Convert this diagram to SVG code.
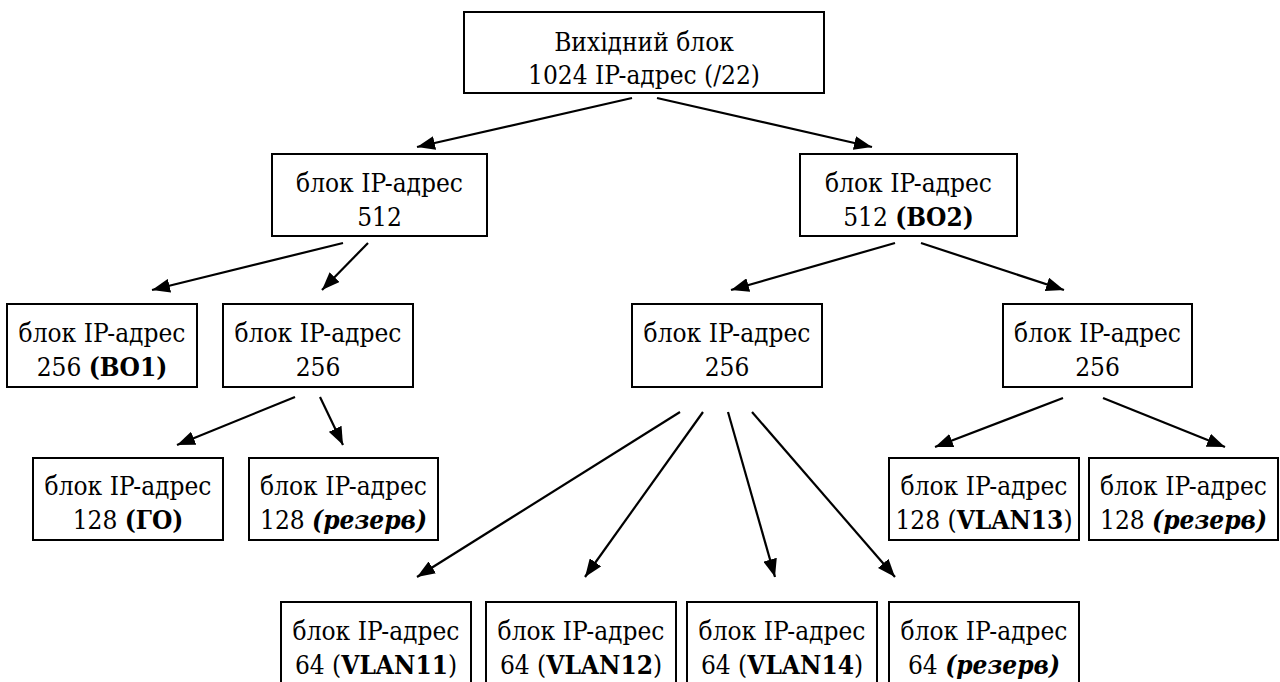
<svg xmlns="http://www.w3.org/2000/svg" width="1280" height="682" viewBox="0 0 1280 682">
<style>
.box{fill:#fff;stroke:#000;stroke-width:2}
.t text{font-family:"DejaVu Serif Condensed","DejaVu Serif","Liberation Serif",serif;font-stretch:condensed;font-size:26px;fill:#000;text-anchor:middle}
.b{font-weight:bold}
.bi{font-weight:bold;font-style:italic}
.con line{stroke:#000;stroke-width:2.2}
</style>
<defs>
<marker id="ah" markerUnits="userSpaceOnUse" markerWidth="20" markerHeight="14" refX="18" refY="7" orient="auto">
<path d="M0,0 L18,7 L0,14 z" fill="#000"/>
</marker>
</defs>
<rect width="1280" height="682" fill="#fff"/>
<g class="con">
<line x1="632" y1="98" x2="417" y2="147" marker-end="url(#ah)"/>
<line x1="657" y1="98" x2="872" y2="147" marker-end="url(#ah)"/>
<line x1="343" y1="243" x2="152" y2="290" marker-end="url(#ah)"/>
<line x1="368" y1="243" x2="322" y2="290" marker-end="url(#ah)"/>
<line x1="895" y1="243" x2="731" y2="290" marker-end="url(#ah)"/>
<line x1="921" y1="243" x2="1064" y2="290" marker-end="url(#ah)"/>
<line x1="295" y1="397" x2="177" y2="445" marker-end="url(#ah)"/>
<line x1="320" y1="397" x2="343" y2="445" marker-end="url(#ah)"/>
<line x1="680" y1="412" x2="417" y2="577" marker-end="url(#ah)"/>
<line x1="703" y1="412" x2="585" y2="577" marker-end="url(#ah)"/>
<line x1="728" y1="412" x2="775" y2="577" marker-end="url(#ah)"/>
<line x1="752" y1="412" x2="895" y2="577" marker-end="url(#ah)"/>
<line x1="1063" y1="398" x2="935" y2="447" marker-end="url(#ah)"/>
<line x1="1103" y1="398" x2="1225" y2="447" marker-end="url(#ah)"/>
</g>
<g class="t">
<g id="n0"><rect class="box" x="464" y="12" width="360" height="81"/><text x="644" y="51">Вихідний блок</text><text x="644" y="84">1024 IP-адрес (/22)</text></g>
<g id="n1"><rect class="box" x="272" y="154" width="215" height="82"/><text x="379.5" y="192">блок IP-адрес</text><text x="379.5" y="226">512</text></g>
<g id="n2"><rect class="box" x="800" y="154" width="217" height="82"/><text x="908.5" y="192">блок IP-адрес</text><text x="908.5" y="226">512 <tspan class="b">(ВО2)</tspan></text></g>
<g id="n3"><rect class="box" x="7" y="304" width="190" height="83"/><text x="102" y="342">блок IP-адрес</text><text x="102" y="376">256 <tspan class="b">(ВО1)</tspan></text></g>
<g id="n4"><rect class="box" x="223" y="304" width="190" height="83"/><text x="318" y="342">блок IP-адрес</text><text x="318" y="376">256</text></g>
<g id="n5"><rect class="box" x="632" y="304" width="190" height="83"/><text x="727" y="342">блок IP-адрес</text><text x="727" y="376">256</text></g>
<g id="n6"><rect class="box" x="1003" y="304" width="189" height="83"/><text x="1097.5" y="342">блок IP-адрес</text><text x="1097.5" y="376">256</text></g>
<g id="n7"><rect class="box" x="33" y="458" width="190" height="82"/><text x="128" y="495">блок IP-адрес</text><text x="128" y="529">128 <tspan class="b">(ГО)</tspan></text></g>
<g id="n8"><rect class="box" x="249" y="458" width="189" height="82"/><text x="343.5" y="495">блок IP-адрес</text><text x="343.5" y="529">128 <tspan class="bi">(резерв)</tspan></text></g>
<g id="n9"><rect class="box" x="889" y="458" width="190" height="82"/><text x="984" y="495">блок IP-адрес</text><text x="984" y="529">128 (<tspan class="b">VLAN13</tspan>)</text></g>
<g id="n10"><rect class="box" x="1089" y="458" width="189" height="82"/><text x="1183.5" y="495">блок IP-адрес</text><text x="1183.5" y="529">128 <tspan class="bi">(резерв)</tspan></text></g>
<g id="n11"><rect class="box" x="281" y="602" width="190" height="83"/><text x="376" y="640">блок IP-адрес</text><text x="376" y="674">64 (<tspan class="b">VLAN11</tspan>)</text></g>
<g id="n12"><rect class="box" x="486" y="602" width="190" height="83"/><text x="581" y="640">блок IP-адрес</text><text x="581" y="674">64 (<tspan class="b">VLAN12</tspan>)</text></g>
<g id="n13"><rect class="box" x="687" y="602" width="190" height="83"/><text x="782" y="640">блок IP-адрес</text><text x="782" y="674">64 (<tspan class="b">VLAN14</tspan>)</text></g>
<g id="n14"><rect class="box" x="889" y="602" width="190" height="83"/><text x="984" y="640">блок IP-адрес</text><text x="984" y="674">64 <tspan class="bi">(резерв)</tspan></text></g>
</g>
</svg>
